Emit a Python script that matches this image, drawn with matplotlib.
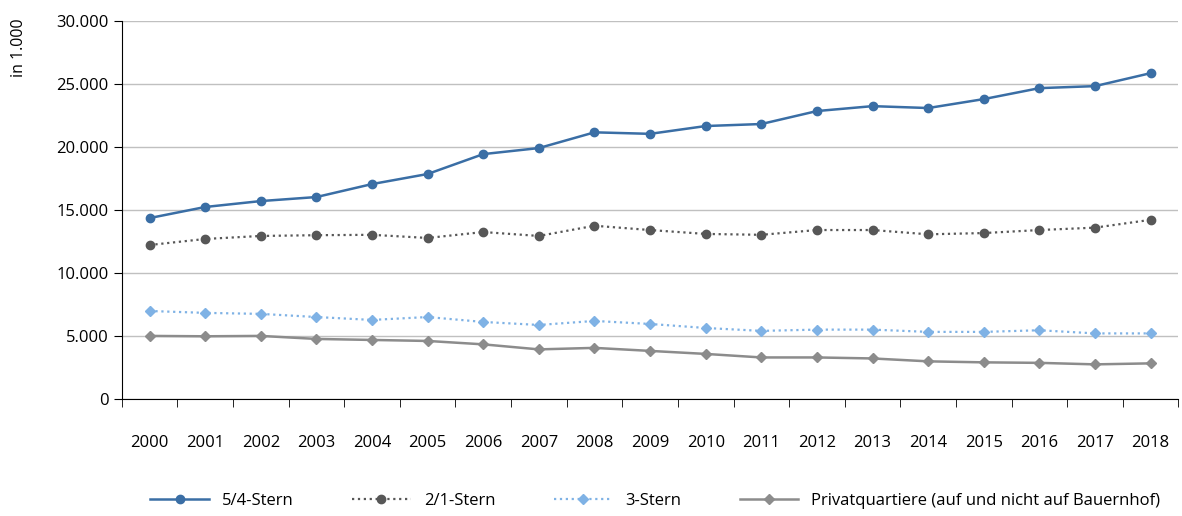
import numpy as np
import matplotlib.pyplot as plt
from matplotlib.ticker import FuncFormatter

plt.rcParams['font.family'] = ['Open Sans', 'DejaVu Sans']
plt.rcParams['font.size'] = 12

years = list(range(2000, 2019))
stern_54 = [14.36, 15.24, 15.71, 16.03, 17.06, 17.86, 19.44, 19.92, 21.17, 21.05, 21.67, 21.83,
            22.86, 23.25, 23.1, 23.81, 24.68, 24.84, 25.87]
stern_21 = [12.22, 12.7, 12.94, 13.0, 13.03, 12.78, 13.25, 12.94, 13.75, 13.41, 13.1, 13.03,
            13.41, 13.41, 13.07, 13.17, 13.41, 13.6, 14.22]
stern_3 = [6.98, 6.83, 6.75, 6.5, 6.27, 6.5, 6.11, 5.87, 6.19, 5.95, 5.63, 5.4,
           5.5, 5.5, 5.32, 5.32, 5.45, 5.2, 5.2]
privat = [5.0, 4.97, 5.0, 4.76, 4.68, 4.6, 4.33, 3.93, 4.05, 3.81, 3.57, 3.29,
          3.29, 3.21, 2.98, 2.9, 2.86, 2.74, 2.82]

fig = plt.figure(figsize=(11.82, 5.16), dpi=100)
ax = fig.add_axes([0.103, 0.227, 0.894, 0.732])

ax.plot(years, np.array(stern_54) * 1000, color='#3a6ea5', lw=1.8, marker='o', ms=6, label='5/4-Stern')
ax.plot(years, np.array(stern_21) * 1000, color='#575757', lw=1.6, ls=':', marker='o', ms=6, label='2/1-Stern')
ax.plot(years, np.array(stern_3) * 1000, color='#7fb2e5', lw=1.6, ls=':', marker='D', ms=5, label='3-Stern')
ax.plot(years, np.array(privat) * 1000, color='#8c8c8c', lw=1.8, marker='D', ms=5,
        label='Privatquartiere (auf und nicht auf Bauernhof)')

ax.set_xlim(1999.5, 2018.5)
ax.set_ylim(0, 30000)
ax.set_yticks(np.arange(0, 30001, 5000))
ax.yaxis.set_major_formatter(FuncFormatter(lambda v, p: f'{int(v):,}'.replace(',', '.')))
ax.set_xticks(years)
ax.set_xticks(np.arange(1999.5, 2019, 1), minor=True)
ax.tick_params(axis='x', which='major', length=0, pad=26)
ax.tick_params(axis='x', which='minor', length=6, color='black')
ax.tick_params(axis='y', length=6)
ax.grid(axis='y', color='#c0c0c0', lw=1)
ax.set_axisbelow(True)
for s in ['top', 'right']:
    ax.spines[s].set_visible(False)
ax.set_ylabel('in 1.000', fontsize=11.5)
ax.yaxis.set_label_coords(-0.09, 0.93)

ax.legend(loc='lower center', bbox_to_anchor=(0.505, -0.33), ncol=4, frameon=False,
          handlelength=3.5, columnspacing=3.5)

fig.savefig('out.png')
